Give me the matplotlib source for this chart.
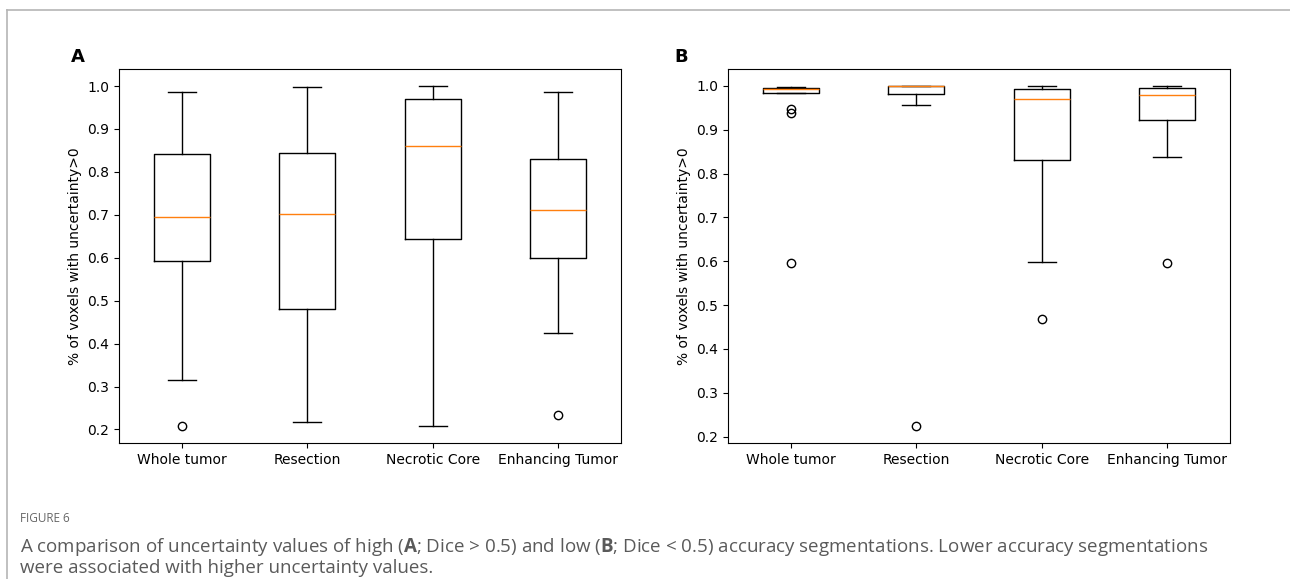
import matplotlib
matplotlib.use("Agg")
import matplotlib.pyplot as plt
from matplotlib.lines import Line2D

# categories
labels = ["Whole tumor", "Resection", "Necrotic Core", "Enhancing Tumor"]

# panel A: high accuracy (Dice > 0.5)
a_whislo = [0.315, 0.218, 0.208, 0.424]
a_q1 = [0.592, 0.480, 0.643, 0.599]
a_med = [0.695, 0.703, 0.860, 0.710]
a_q3 = [0.841, 0.843, 0.970, 0.830]
a_whishi = [0.986, 0.997, 1.000, 0.986]
a_fliers = [[0.208], [], [], [0.234]]

# panel B: low accuracy (Dice < 0.5)
b_whislo = [0.983, 0.957, 0.599, 0.838]
b_q1 = [0.985, 0.9825, 0.830, 0.922]
b_med = [0.994, 0.999, 0.970, 0.980]
b_q3 = [0.996, 1.000, 0.994, 0.995]
b_whishi = [0.9985, 1.000, 1.000, 1.000]
b_fliers = [[0.948, 0.938, 0.595], [0.224], [0.469], [0.595]]


def make_stats(whislo, q1, med, q3, whishi, fliers):
    stats = []
    for i in range(len(labels)):
        stats.append(
            {
                "label": labels[i],
                "whislo": whislo[i],
                "q1": q1[i],
                "med": med[i],
                "q3": q3[i],
                "whishi": whishi[i],
                "fliers": fliers[i],
            }
        )
    return stats


# bold letters in the caption via mathtext
plt.rcParams["mathtext.fontset"] = "custom"
plt.rcParams["mathtext.rm"] = "Open Sans"
plt.rcParams["mathtext.bf"] = "Open Sans:bold"

W, H = 1290, 579
fig = plt.figure(figsize=(W / 100, H / 100), dpi=100)

ax_a = fig.add_axes([119 / W, (H - 443) / H, 502 / W, 374 / H])
ax_b = fig.add_axes([728 / W, (H - 443) / H, 502 / W, 374 / H])

ylabel = "% of voxels with uncertainty>0"
for ax, st in [
    (ax_a, make_stats(a_whislo, a_q1, a_med, a_q3, a_whishi, a_fliers)),
    (ax_b, make_stats(b_whislo, b_q1, b_med, b_q3, b_whishi, b_fliers)),
]:
    ax.bxp(st, showfliers=True)
    ax.set_ylabel(ylabel, fontsize=10)
    ax.tick_params(labelsize=10)

# panel letters
fig.text(71 / W, 1 - 48 / H, "A", fontsize=13, fontweight="bold", va="top", ha="left")
fig.text(674 / W, 1 - 48 / H, "B", fontsize=13, fontweight="bold", va="top", ha="left")

# card border (top and left)
fig.add_artist(Line2D([7 / W, 1], [1 - 10 / H, 1 - 10 / H], color="#b5b5b5", lw=1.2))
fig.add_artist(Line2D([7 / W, 7 / W], [0, 1 - 10 / H], color="#b5b5b5", lw=1.2))

# caption
cap_font = "Open Sans"
cap_color = "#5a5a5a"
fig.text(20 / W, 1 - 519 / H, "FIGURE 6", fontsize=8.5, color="#666666",
         family=cap_font, va="center")
line1 = ("A comparison of uncertainty values of high ($\\mathbf{A}$; Dice > 0.5) and low "
         "($\\mathbf{B}$; Dice < 0.5) accuracy segmentations. Lower accuracy segmentations")
line2 = "were associated with higher uncertainty values."
fig.text(20 / W, 1 - 547 / H, line1, fontsize=13.5, color=cap_color,
         family=cap_font, va="center")
fig.text(20 / W, 1 - 568 / H, line2, fontsize=13.5, color=cap_color,
         family=cap_font, va="center")

fig.savefig("out.png", dpi=100)
